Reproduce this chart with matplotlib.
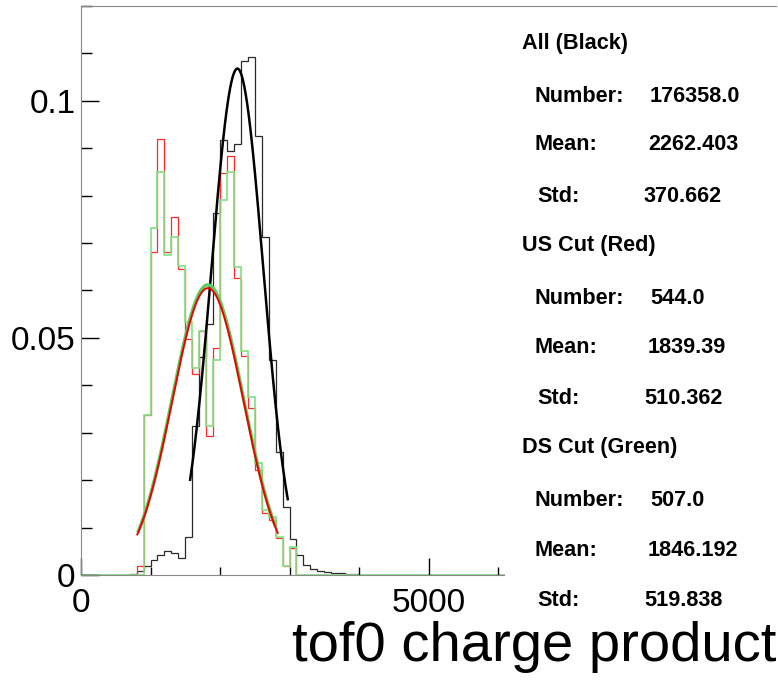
import matplotlib.pyplot as plt
import numpy as np
from matplotlib.patches import Rectangle
from matplotlib.ticker import MultipleLocator

plt.rcParams['font.family'] = ['Liberation Sans', 'DejaVu Sans']

# histogram binning (100 wide bins over 0..10000)
bin_width = 100
x_max = 10000

# normalised bin contents, starting at the given lower edge
black_start = 700
black_vals = [0.0002, 0.0008, 0.0020, 0.0032, 0.0042, 0.0050, 0.0047, 0.0036, 0.0080,
              0.0315, 0.0460, 0.0530, 0.0763, 0.0918, 0.0895, 0.0909, 0.1083, 0.1092,
              0.0925, 0.0712, 0.0454, 0.0259, 0.0143, 0.0075, 0.0042, 0.0021, 0.0012,
              0.0008, 0.0006, 0.0005, 0.0004, 0.0003, 0.0002]
red_start = 800
red_vals = [0.0020, 0.0338, 0.0682, 0.0920, 0.0681, 0.0756, 0.0646, 0.0498, 0.0424,
            0.0515, 0.0294, 0.0478, 0.0847, 0.0884, 0.0626, 0.0461, 0.0352, 0.0222,
            0.0130, 0.0116, 0.0077, 0.0020, 0.0056]
green_start = 800
green_vals = [0.0, 0.0338, 0.0731, 0.0850, 0.0674, 0.0712, 0.0652, 0.0533, 0.0436,
              0.0515, 0.0315, 0.0454, 0.0791, 0.0850, 0.0650, 0.0473, 0.0375, 0.0237,
              0.0137, 0.0122, 0.0080, 0.0020, 0.0060]

# gaussian fits: amplitude, mean, sigma, fit range
black_fit = (0.1068, 2250, 372, 1570, 2975)
red_fit = (0.0605, 1825, 513, 810, 2830)
green_fit = (0.0612, 1825, 515, 825, 2790)

# stats box text
headers = ['All (Black)', 'US Cut (Red)', 'DS Cut (Green)']
numbers = ['176358.0', '544.0', '507.0']
means = ['2262.403', '1839.39', '1846.192']
stds = ['370.662', '510.362', '519.838']

edges = np.arange(0, x_max + bin_width, bin_width)


def full_hist(start, vals):
    h = np.zeros(len(edges) - 1)
    i = start // bin_width
    h[i:i + len(vals)] = vals
    return h


def gauss(p):
    a, mu, sig, lo, hi = p
    xx = np.linspace(lo, hi, 300)
    return xx, a * np.exp(-0.5 * ((xx - mu) / sig) ** 2)


W, H = 778, 680
fig = plt.figure(figsize=(W / 100, H / 100), dpi=100)
ax = fig.add_axes([81 / W, 1 - 575 / H, 695 / W, 569 / H])

ax.stairs(full_hist(black_start, black_vals), edges, color='#2a2a2a', lw=0.9)
xx, yy = gauss(black_fit)
ax.plot(xx, yy, color='black', lw=1.8)
ax.stairs(full_hist(red_start, red_vals), edges, color='#ff2a2a', lw=0.9)
ax.stairs(full_hist(green_start, green_vals), edges, color='#86e086', lw=1.25)
xx, yy = gauss(green_fit)
ax.plot(xx, yy, color='#5ccc5c', lw=2.4)
xx, yy = gauss(red_fit)
ax.plot(xx, yy, color='#ee0000', lw=1.4)

ax.set_xlim(0, x_max)
ax.set_ylim(0, 0.12)
ax.xaxis.set_minor_locator(MultipleLocator(1000))
ax.yaxis.set_minor_locator(MultipleLocator(0.01))
ax.set_xticks([0, 5000, 10000], ['0', '5000', ''])
ax.set_yticks([0, 0.05, 0.1], ['0', '0.05', '0.1'])

ax.tick_params(axis='both', which='both', direction='in', colors='black', width=1,
               labelsize=24, top=False, right=False)
ax.tick_params(axis='x', which='major', length=12, pad=9)
ax.tick_params(axis='x', which='minor', length=6)
ax.tick_params(axis='y', which='major', length=13, pad=4)
ax.tick_params(axis='y', which='minor', length=8)
for s in ['left', 'bottom', 'top']:
    ax.spines[s].set_color('#888888')
ax.spines['right'].set_visible(False)

ax.set_xlabel('tof0 charge product', fontsize=40.5, loc='right', labelpad=2)

# white stats pave covering the right part of the frame
fig.patches.append(Rectangle((505 / W, 1 - 606 / H), 273 / W, 594 / H,
                             transform=fig.transFigure, facecolor='white',
                             edgecolor='none', zorder=2))

row_y = [43, 96, 145, 196]
fs = 15.6
for k in range(3):
    y0 = k * 202.5
    fig.text(522 / W, 1 - (row_y[0] + y0) / H, headers[k], fontsize=fs,
             fontweight='bold', va='center', zorder=5)
    rows = [('Number:', numbers[k], 535, 650), ('Mean:', means[k], 535, 648),
            ('Std:', stds[k], 537, 644)]
    for j, (lab, val, xl, xv) in enumerate(rows):
        yy_ = 1 - (row_y[j + 1] + y0) / H
        fig.text(xl / W, yy_, lab, fontsize=fs, fontweight='bold', va='center', zorder=5)
        fig.text(xv / W, yy_, val, fontsize=fs, fontweight='bold', va='center', zorder=5)

fig.savefig('out.png', dpi=100)
